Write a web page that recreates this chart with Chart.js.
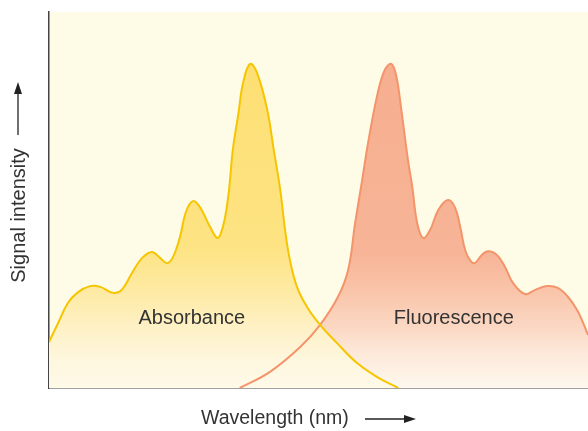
<!DOCTYPE html>
<html>
<head>
<meta charset="utf-8">
<script src="https://cdn.jsdelivr.net/npm/chart.js@4/dist/chart.umd.min.js"></script>
<style>
  html, body { margin: 0; padding: 0; background: #fff; }
  #wrap { width: 588px; height: 431px; position: relative; }
</style>
</head>
<body>
<div id="wrap"><canvas id="spectra"></canvas></div>
<script>
// relative wavelength (0-100) and relative signal (0-100)
const absorbanceX = [0, 1.7, 3.5, 5.4, 7.6, 9.5, 11.9, 13.5, 15.4, 17.3,
  19.1, 20.6, 21.9, 23.0, 24.3, 25.4, 26.7, 28.0, 29.9, 31.2,
  31.9, 32.7, 33.4, 34.1, 35.1, 36.0, 37.3, 38.6, 40.5, 41.7,
  42.9, 43.8, 44.7, 46.0, 47.9, 50.3, 53.4, 57.1, 60.9, 64.8];
const absorbanceY = [12.2, 17.3, 22.6, 25.5, 27.1, 26.9, 25.3, 26.1, 30.6, 34.6,
  36.2, 34.6, 33.2, 34.8, 40.2, 46.8, 49.7, 48.1, 42.8, 39.9,
  41.2, 45.7, 52.7, 63.3, 72.6, 81.1, 86.2, 83.8, 73.9, 63.3,
  52.7, 42.0, 34.0, 26.9, 21.5, 16.8, 12.0, 6.7, 2.9, 0];

const fluorescenceX = [35.4, 41.0, 46.6, 50.3, 53.6, 55.5, 56.8, 58.1, 59.2, 61.0,
  62.3, 63.5, 64.4, 65.3, 66.6, 67.4, 68.3, 69.4, 70.7, 72.2,
  74.0, 75.3, 76.3, 77.2, 78.1, 79.0, 80.3, 81.5, 83.1, 84.6,
  86.1, 88.3, 90.2, 92.4, 94.4, 96.3, 98.0, 99.1, 100];
const fluorescenceY = [0, 4.3, 10.9, 16.8, 24.2, 31.4, 43.9, 55.3, 65.2, 78.5,
  84.6, 86.2, 83.2, 74.7, 60.6, 53.5, 43.9, 39.9, 42.0, 47.3,
  50.0, 48.1, 42.8, 36.7, 34.0, 33.2, 35.4, 36.4, 35.4, 32.2,
  27.9, 25.0, 26.1, 27.1, 26.6, 24.2, 20.7, 17.3, 14.1];

const curveLabels = ['Absorbance', 'Fluorescence'];
const curveLabelX = [26.5, 75.1];
const curveLabelY = [16.9, 16.9];

const xTitle = 'Wavelength (nm)';
const yTitle = 'Signal intensity';

const toPoints = (xs, ys) => xs.map((x, i) => ({ x: x, y: ys[i] }));

const makeGradient = (stops) => (context) => {
  const chart = context.chart;
  const area = chart.chartArea;
  if (!area) return null;
  const g = chart.ctx.createLinearGradient(0, area.top, 0, area.bottom);
  stops.forEach((s) => g.addColorStop(s[0], s[1]));
  return g;
};

const absorbanceFill = makeGradient([
  [0, '#fdde70'], [0.62, '#fde382'], [0.74, '#feeaa2'], [0.84, '#fef1c6'], [0.93, '#fef7df'], [1, '#fefae8'],
]);
const fluorescenceFill = makeGradient([
  [0, '#f6ad8e'], [0.64, '#f7b496'], [0.74, '#f9c4a9'], [0.83, '#fbd6c1'], [0.91, '#fde9da'], [1, '#fef8ee'],
]);

// plot background, labels, axis titles and arrows
const decorations = {
  id: 'decorations',
  beforeDraw(chart) {
    const { ctx, chartArea } = chart;
    ctx.save();
    ctx.fillStyle = '#fefbe6';
    ctx.fillRect(chartArea.left, chartArea.top, chartArea.right - chartArea.left, chartArea.bottom - chartArea.top);
    ctx.restore();
  },
  afterDraw(chart) {
    const { ctx, scales } = chart;
    ctx.save();
    ctx.fillStyle = '#333333';
    ctx.strokeStyle = '#222222';
    ctx.textBaseline = 'alphabetic';

    ctx.font = '20px "Liberation Sans", Arial, sans-serif';
    ctx.textAlign = 'center';
    curveLabels.forEach((t, i) => {
      ctx.fillText(t, scales.x.getPixelForValue(curveLabelX[i]), scales.y.getPixelForValue(curveLabelY[i]));
    });

    // x title with arrow
    ctx.font = '19.5px "Liberation Sans", Arial, sans-serif';
    ctx.textAlign = 'left';
    ctx.fillText(xTitle, 201, 424);
    ctx.lineWidth = 1.3;
    ctx.beginPath();
    ctx.moveTo(365, 419);
    ctx.lineTo(406, 419);
    ctx.stroke();
    ctx.beginPath();
    ctx.moveTo(416, 419);
    ctx.lineTo(404, 415);
    ctx.lineTo(404, 423);
    ctx.closePath();
    ctx.fillStyle = '#222222';
    ctx.fill();

    // y title with arrow
    ctx.fillStyle = '#333333';
    ctx.save();
    ctx.translate(25, 215.5);
    ctx.rotate(-Math.PI / 2);
    ctx.font = '20px "Liberation Sans", Arial, sans-serif';
    ctx.textAlign = 'center';
    ctx.fillText(yTitle, 0, 0);
    ctx.restore();
    ctx.beginPath();
    ctx.moveTo(18, 135);
    ctx.lineTo(18, 92);
    ctx.stroke();
    ctx.beginPath();
    ctx.moveTo(18, 82);
    ctx.lineTo(14, 94);
    ctx.lineTo(22, 94);
    ctx.closePath();
    ctx.fillStyle = '#222222';
    ctx.fill();
    ctx.restore();
  },
};

new Chart(document.getElementById('spectra'), {
  type: 'line',
  data: {
    datasets: [
      {
        label: 'Absorbance',
        data: toPoints(absorbanceX, absorbanceY),
        borderColor: '#f6c500',
        borderWidth: 2,
        backgroundColor: absorbanceFill,
        fill: 'origin',
        pointRadius: 0,
        tension: 0.4,
      },
      {
        label: 'Fluorescence',
        data: toPoints(fluorescenceX, fluorescenceY),
        borderColor: '#f3946b',
        borderWidth: 2,
        backgroundColor: fluorescenceFill,
        fill: 'origin',
        pointRadius: 0,
        tension: 0.4,
      },
    ],
  },
  options: {
    responsive: true,
    maintainAspectRatio: false,
    animation: false,
    layout: { padding: { left: 49, top: 12, right: 0, bottom: 43 } },
    plugins: {
      legend: { display: false },
      tooltip: { enabled: false },
      filler: { drawTime: 'beforeDatasetsDraw' },
    },
    scales: {
      x: {
        type: 'linear',
        min: 0,
        max: 100,
        ticks: { display: false },
        grid: { display: false, drawTicks: false },
        border: { display: true, color: '#444444', width: 1.5 },
      },
      y: {
        min: 0,
        max: 100,
        ticks: { display: false },
        grid: { display: false, drawTicks: false },
        border: { display: true, color: '#444444', width: 1.5 },
      },
    },
  },
  plugins: [decorations],
});
</script>
</body>
</html>
